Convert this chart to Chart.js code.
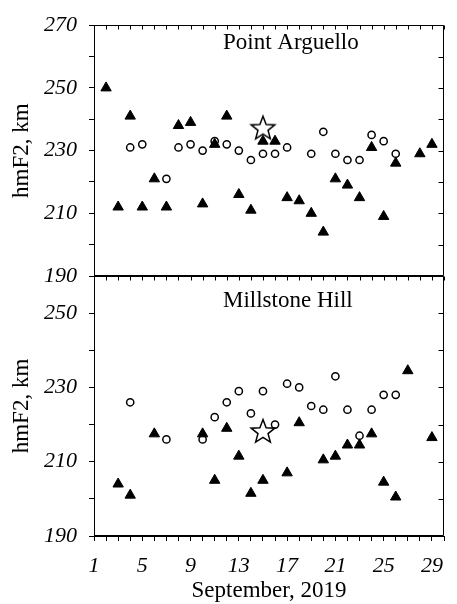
<!DOCTYPE html>
<html lang="en">
<head>
<meta charset="UTF-8">
<title>hmF2, September 2019</title>
<style>
  body { margin: 0; background: #fff; }
  .wrap { position: relative; width: 457px; height: 604px; }
  canvas { position: absolute; left: 0; top: 0; }
</style>
</head>
<body>
<div class="wrap">
  <canvas id="pa" width="457" height="604"></canvas>
  <canvas id="ms" width="457" height="604"></canvas>
</div>

<script src="https://cdn.jsdelivr.net/npm/chart.js@4.4.1/dist/chart.umd.min.js"></script>
<script>
// days of September 2019
const days = [1,2,3,4,5,6,7,8,9,10,11,12,13,14,15,16,17,18,19,20,21,22,23,24,25,26,27,28,29];

// Point Arguello, hmF2 (km)
const paTriangle = [null,250,212,241,212,221,212,238,239,213,232,241,216,211,233,233,215,214,210,204,221,219,215,231,209,226,null,229,232];
const paCircle   = [null,null,null,231,232,null,221,231,232,230,233,232,230,227,229,229,231,null,229,236,229,227,227,235,233,229,null,null,null];

// Millstone Hill, hmF2 (km)
const msTriangle = [null,null,204,201,null,217.5,null,null,null,217.5,205,219,211.5,201.5,205,null,207,220.5,null,210.5,211.5,214.5,214.5,217.5,204.5,200.5,234.5,null,216.5];
const msCircle   = [null,null,null,226,null,null,216,null,null,216,222,226,229,223,229,220,231,230,225,224,233,224,217,224,228,228,null,null,null];

// star marks
const starDays = [15];
const paStar = [237];
const msStar = [218];

const xTicksLabelled = [1,5,9,13,17,21,25,29];

Chart.defaults.font.family = '"Liberation Serif", "Times New Roman", serif';
Chart.defaults.color = '#000';

function toPoints(xs, ys) {
  const pts = [];
  xs.forEach((x, i) => { if (ys[i] !== null) pts.push({x: x, y: ys[i]}); });
  return pts;
}

function makeStar(R, r) {
  const c = document.createElement('canvas');
  const s = 30;
  c.width = s; c.height = s;
  const g = c.getContext('2d');
  g.beginPath();
  for (let i = 0; i < 10; i++) {
    const rad = i % 2 === 0 ? R : r;
    const a = -Math.PI / 2 + i * Math.PI / 5;
    const x = s / 2 + rad * Math.cos(a), y = s / 2 + rad * Math.sin(a);
    if (i === 0) g.moveTo(x, y); else g.lineTo(x, y);
  }
  g.closePath();
  g.fillStyle = '#fff';
  g.fill();
  g.lineWidth = 1.5;
  g.strokeStyle = '#000';
  g.stroke();
  return c;
}
const starImg = makeStar(12.5, 5.3);

// frame, inward ticks and texts
const decor = {
  id: 'decor',
  afterDraw(chart, args, opts) {
    const {ctx, chartArea: a} = chart;
    const xs = chart.scales.x, ys = chart.scales.y;
    const L = Math.round(a.left) + 0.5, R = Math.round(a.right) - 0.5;
    const T = Math.round(a.top) + 0.5, B = Math.round(a.bottom) - 0.5;
    ctx.save();
    ctx.strokeStyle = '#000';
    ctx.lineWidth = 1;
    ctx.beginPath();
    ctx.rect(L, T, R - L, B - T);
    // top ticks pointing in
    for (let d = 1; d <= 30; d++) {
      const px = Math.round(xs.getPixelForValue(d)) + 0.5;
      ctx.moveTo(px, T); ctx.lineTo(px, T + 4);
    }
    // right ticks pointing in
    for (let v = ys.min; v <= ys.max; v += 10) {
      const py = Math.round(ys.getPixelForValue(v)) + 0.5;
      ctx.moveTo(R, py); ctx.lineTo(R - 5, py);
    }
    ctx.stroke();

    ctx.fillStyle = '#000';
    ctx.font = '23px "Liberation Serif", "Times New Roman", serif';
    ctx.textBaseline = 'alphabetic';
    ctx.textAlign = 'left';
    ctx.fillText(opts.label, opts.labelX, opts.labelY);
    if (opts.xTitle) {
      ctx.textAlign = 'center';
      ctx.fillText(opts.xTitle, opts.xTitleX, opts.xTitleY);
    }
    ctx.restore();
  }
};

function panel(id, cfg) {
  const ctx = document.getElementById(id).getContext('2d');
  return new Chart(ctx, {
    type: 'scatter',
    data: {
      datasets: [
        { data: toPoints(starDays, cfg.star), pointStyle: starImg, pointRadius: 12 },
        { data: toPoints(days, cfg.tri), pointStyle: 'triangle', pointRadius: 6,
          backgroundColor: '#000', borderColor: '#000', borderWidth: 1 },
        { data: toPoints(days, cfg.circ), pointStyle: 'circle', pointRadius: 3.6,
          backgroundColor: '#fff', borderColor: '#000', borderWidth: 1.5 },
      ],
    },
    options: {
      responsive: false,
      animation: false,
      events: [],
      layout: { padding: cfg.padding },
      plugins: {
        legend: { display: false },
        tooltip: { enabled: false },
        decor: cfg.decor,
      },
      scales: {
        x: cfg.x,
        y: {
          type: 'linear', position: 'left', min: 190, max: cfg.yMax,
          afterFit: s => { s.width = 94; },
          ticks: { stepSize: 10, padding: 12, font: { size: 22, style: 'italic' },
                   callback: v => ((v - 190) % 20 === 0 ? v : '') },
          grid: { drawOnChartArea: false, tickLength: 5, color: '#000' },
          border: { color: '#000' },
          title: { display: true, text: 'hmF2, km', font: { size: 23 }, padding: { top: 8, bottom: 0 } },
        },
      },
    },
    plugins: [decor],
  });
}

panel('pa', {
  tri: paTriangle, circ: paCircle, star: paStar, yMax: 270,
  padding: { top: 16, bottom: 328, left: 0, right: 1 },
  x: { type: 'linear', min: 1, max: 30, display: false },
  decor: { label: 'Point Arguello', labelX: 223, labelY: 49 },
});

panel('ms', {
  tri: msTriangle, circ: msCircle, star: msStar, yMax: 260,
  padding: { top: 276, bottom: 0, left: 0, right: 1 },
  x: {
    type: 'linear', position: 'bottom', min: 1, max: 30,
    afterFit: s => { s.height = 68; },
    ticks: { stepSize: 1, autoSkip: false, maxRotation: 0, padding: 12,
             font: { size: 22, style: 'italic' },
             callback: v => (xTicksLabelled.includes(v) ? v : '') },
    grid: { drawOnChartArea: false, tickLength: 5, color: '#000' },
    border: { color: '#000' },
  },
  decor: { label: 'Millstone Hill', labelX: 223, labelY: 307,
           xTitle: 'September, 2019', xTitleX: 269, xTitleY: 597 },
});
</script>
</body>
</html>
